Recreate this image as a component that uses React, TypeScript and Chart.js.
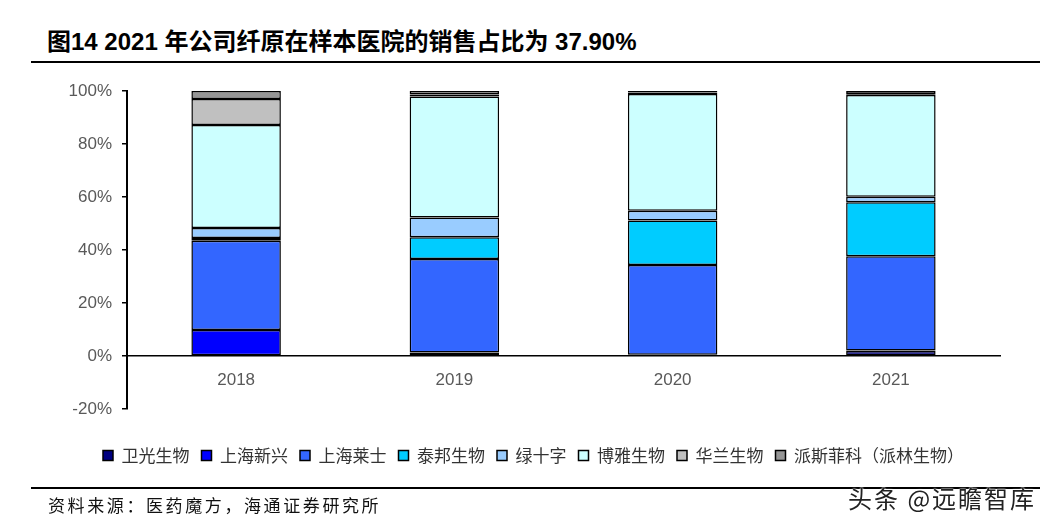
import React, { useEffect, useRef } from "react";
import { Chart, registerables } from "chart.js";

Chart.register(...registerables);

const years = ["2018", "2019", "2020", "2021"];
const weiguang = [0, 0.3, 0.2, 1.9];
const shanghaiXinxing = [9.8, 1.0, 0.3, 0.2];
const shanghaiLaishi = [33.7, 35.3, 33.8, 35.5];
const taibang = [1.0, 8.2, 16.8, 20.4];
const lvshizi = [3.8, 7.5, 3.7, 2.1];
const boya = [38.9, 45.6, 44.1, 38.4];
const hualan = [9.8, 0.8, 0.5, 0.3];
const paisi = [3.0, 1.3, 0.6, 1.2];

const seriesNames = [
  "卫光生物",
  "上海新兴",
  "上海莱士",
  "泰邦生物",
  "绿十字",
  "博雅生物",
  "华兰生物",
  "派斯菲科（派林生物）",
];
const seriesValues = [weiguang, shanghaiXinxing, shanghaiLaishi, taibang, lvshizi, boya, hualan, paisi];
const seriesColors = ["#000080", "#0000FF", "#3366FF", "#00CCFF", "#99CCFF", "#CCFFFF", "#C0C0C0", "#969696"];
const yTicks = [-20, 0, 20, 40, 60, 80, 100];

export default function App() {
  const canvasRef = useRef<HTMLCanvasElement | null>(null);

  useEffect(() => {
    if (!canvasRef.current) return;
    const chart = new Chart(canvasRef.current, {
      type: "bar",
      data: {
        labels: years,
        datasets: seriesNames.map((name, i) => ({
          label: name,
          data: seriesValues[i],
          backgroundColor: seriesColors[i],
          borderColor: "#000000",
          borderWidth: 1.5,
          borderSkipped: false,
          barPercentage: 0.41,
          categoryPercentage: 1,
        })),
      },
      options: {
        animation: false,
        responsive: false,
        maintainAspectRatio: false,
        layout: { padding: { top: 91, left: 67, right: 58, bottom: 55 } },
        plugins: {
          tooltip: { enabled: false },
          legend: {
            display: true,
            position: "bottom",
            title: { display: true, text: "", font: { size: 10 }, padding: { top: 0, bottom: 14 } },
            labels: {
              boxWidth: 10,
              boxHeight: 10,
              padding: 12,
              color: "#333333",
              font: { size: 17, family: "'Noto Sans CJK SC', sans-serif" },
            },
          },
        },
        scales: {
          x: {
            stacked: true,
            position: { y: 0 },
            grid: { display: false },
            border: { display: true, color: "#000000", width: 1.5 },
            ticks: {
              color: "#595959",
              padding: 6,
              font: { size: 17, family: "'Liberation Sans', Arial, sans-serif" },
            },
          },
          y: {
            stacked: true,
            min: -20,
            max: 100,
            afterFit: (scale: any) => {
              scale.width = 60;
            },
            afterBuildTicks: (scale: any) => {
              scale.ticks = yTicks.map((v) => ({ value: v }));
            },
            grid: {
              display: true,
              drawOnChartArea: false,
              drawTicks: true,
              tickLength: 5,
              color: "#000000",
              lineWidth: 1.5,
            },
            border: { display: true, color: "#000000", width: 2 },
            ticks: {
              color: "#595959",
              padding: 10,
              font: { size: 17, family: "'Liberation Sans', Arial, sans-serif" },
              callback: (v: any) => v + "%",
            },
          },
        },
      },
    });
    return () => chart.destroy();
  }, []);

  return (
    <div
      style={{
        position: "fixed",
        left: 0,
        top: 0,
        width: 1058,
        height: 529,
        background: "#ffffff",
        overflow: "hidden",
      }}
    >
      <div
        style={{
          position: "absolute",
          left: 47,
          top: 29,
          fontFamily: "'Liberation Sans', 'Noto Sans CJK SC', sans-serif",
          fontWeight: "bold",
          fontSize: 24,
          lineHeight: "26px",
          color: "#000",
          whiteSpace: "nowrap",
        }}
      >
        图14 2021 年公司纤原在样本医院的销售占比为 37.90%
      </div>
      <div style={{ position: "absolute", left: 31, top: 61, width: 1009, height: 2, background: "#000" }} />
      <canvas ref={canvasRef} width={1058} height={529} style={{ position: "absolute", left: 0, top: 0 }} />
      <div style={{ position: "absolute", left: 31, top: 487, width: 1009, height: 2, background: "#000" }} />
      <div
        style={{
          position: "absolute",
          left: 48,
          top: 494,
          fontFamily: "'Noto Sans CJK SC', sans-serif",
          fontSize: 17,
          lineHeight: "22px",
          letterSpacing: "2.6px",
          color: "#111",
          whiteSpace: "nowrap",
        }}
      >
        资料来源：医药魔方，海通证券研究所
      </div>
      <div
        style={{
          position: "absolute",
          left: 848,
          top: 484,
          fontFamily: "'Noto Sans CJK SC', sans-serif",
          fontSize: 24,
          lineHeight: "28px",
          letterSpacing: "2px",
          color: "#222",
          whiteSpace: "nowrap",
          textShadow: "0 0 2px #fff, 0 0 2px #fff",
        }}
      >
        头条 @远瞻智库
      </div>
    </div>
  );
}
